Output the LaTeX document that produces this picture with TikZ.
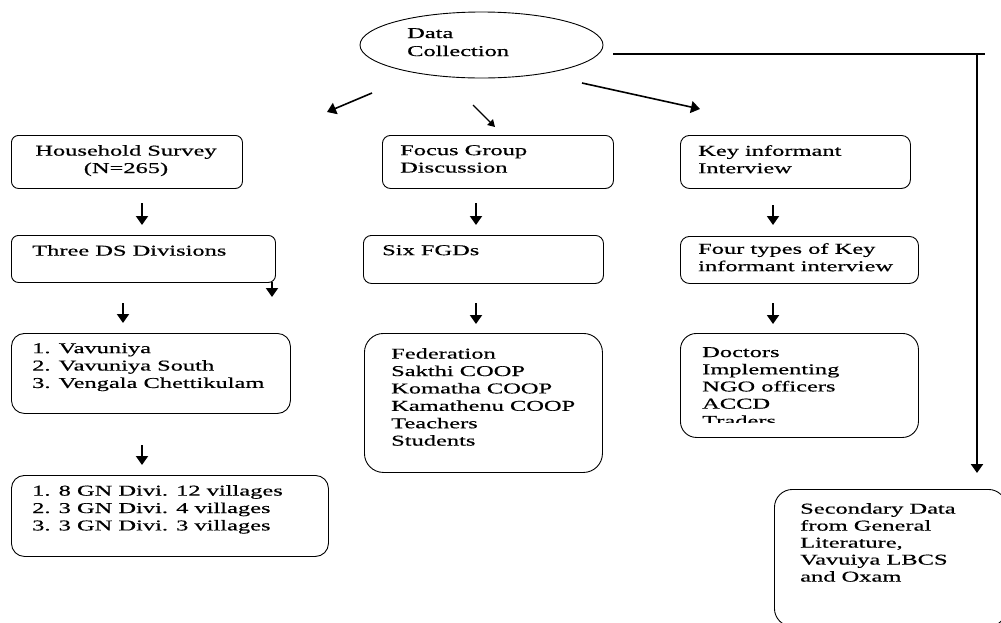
\documentclass[tikz,border=0pt]{standalone}
\usepackage{fontspec}
\setmainfont{Liberation Serif}[FakeStretch=1.63,FakeBold=0.5]
\usetikzlibrary{arrows.meta,shapes.geometric}
\tikzset{
 box/.style={draw, line width=0.9pt, inner sep=0pt, anchor=north west},
 txt/.style={inner sep=0pt, anchor=north west, align=left, font=\fontsize{15pt}{17.4pt}\selectfont},
 arr/.style={line width=1.9pt, -{Triangle[length=9pt,width=12pt]}},
 thinarr/.style={line width=1.2pt, -{Triangle[length=7pt,width=8pt]}},
}
\begin{document}
\begin{tikzpicture}[x=1pt,y=-1pt]
\useasboundingbox (0,0) rectangle (1001,622);
% central ellipse
\node[draw, ellipse, line width=0.9pt, minimum width=243pt, minimum height=66pt, inner sep=0pt] (dc) at (481.5,45) {};
\node[txt, font=\fontsize{15pt}{18pt}\selectfont] (dct) at (407,28) {Data\\Collection};

% boxes
\node[box, rounded corners=7pt, minimum width=231pt, minimum height=53pt] (hh) at (11,135) {};
\node[box, rounded corners=7pt, minimum width=264pt, minimum height=47pt] (ds) at (11,235) {};
\node[box, rounded corners=13pt, minimum width=279pt, minimum height=80pt] (vv) at (11,333) {};
\node[box, rounded corners=13pt, minimum width=317pt, minimum height=81pt] (gn) at (11,475) {};
\node[box, rounded corners=8pt, minimum width=231pt, minimum height=53pt] (fg) at (382,135) {};
\node[box, rounded corners=8pt, minimum width=240pt, minimum height=48pt] (six) at (363,235) {};
\node[box, rounded corners=19pt, minimum width=238pt, minimum height=139pt] (fed) at (364,333) {};
\node[box, rounded corners=9pt, minimum width=230pt, minimum height=53pt] (ki) at (680,135) {};
\node[box, rounded corners=9pt, minimum width=238pt, minimum height=47pt] (ft) at (680,236) {};
\node[box, rounded corners=16pt, minimum width=238pt, minimum height=104pt] (doc) at (680,333) {};
\node[box, rounded corners=18pt, minimum width=232pt, minimum height=137pt] (sec) at (774,489) {};

% texts
\node[txt, anchor=north, align=center] (hht) at (126,145) {Household Survey\\(N=265)};
\node[txt] (dst) at (32,245) {Three DS Divisions};
\node[txt] (vvt) at (32,343) {1. Vavuniya\\2. Vavuniya South\\3. Vengala Chettikulam};
\node[txt] (gnt) at (32,485) {1. 8 GN Divi. 12 villages\\2. 3 GN Divi. 4 villages\\3. 3 GN Divi. 3 villages};
\node[txt] (fgt) at (400,145) {Focus Group\\Discussion};
\node[txt] (sixt) at (382,245) {Six FGDs};
\node[txt] (fedt) at (391,348) {Federation\\Sakthi COOP\\Komatha COOP\\Kamathenu COOP\\Teachers\\Students};
\node[txt] (kit) at (698,145) {Key informant\\Interview};
\node[txt] (ftt) at (698,243) {Four types of Key\\informant interview};
\begin{scope}
\clip (680,333) rectangle (918,422);
\node[txt, font=\fontsize{15pt}{17.2pt}\selectfont] (doct) at (702,347) {Doctors\\Implementing\\NGO officers\\ACCD\\Traders};
\end{scope}
\node[txt, font=\fontsize{15pt}{17pt}\selectfont] (sect) at (800,503) {Secondary Data\\from General\\Literature,\\Vavuiya LBCS\\and Oxam};

% arrow end points
\coordinate (l1) at (372,93);  \coordinate (l2) at (327,112);
\coordinate (m1) at (473,105); \coordinate (m2) at (495,127);
\coordinate (r1) at (582,83);  \coordinate (r2) at (700,109);
\coordinate (h1) at (142,203); \coordinate (h2) at (142,225);
\coordinate (d1) at (272,282); \coordinate (d2) at (272,297);
\coordinate (e1) at (123,303); \coordinate (e2) at (123,323);
\coordinate (v1) at (142,445); \coordinate (v2) at (142,465);
\coordinate (f1) at (476,203); \coordinate (f2) at (476,225);
\coordinate (s1) at (476,303); \coordinate (s2) at (476,324);
\coordinate (k1) at (773,205); \coordinate (k2) at (773,225);
\coordinate (t1) at (773,303); \coordinate (t2) at (773,324);
\coordinate (c1) at (613,54);  \coordinate (c2) at (985,54);
\coordinate (c3) at (977,54);  \coordinate (c4) at (977,473);

\draw[arr, line width=1.6pt] (l1) -- (l2);
\draw[thinarr] (m1) -- (m2);
\draw[arr, line width=1.6pt] (r1) -- (r2);
\draw[arr] (h1) -- (h2);
\draw[arr] (d1) -- (d2);
\draw[arr] (e1) -- (e2);
\draw[arr] (v1) -- (v2);
\draw[arr] (f1) -- (f2);
\draw[arr] (s1) -- (s2);
\draw[arr] (k1) -- (k2);
\draw[arr] (t1) -- (t2);
\draw[line width=1.1pt] (c1) -- (c2);
\draw[arr, line width=2.6pt] (c3) -- (c4);
\end{tikzpicture}
\end{document}
